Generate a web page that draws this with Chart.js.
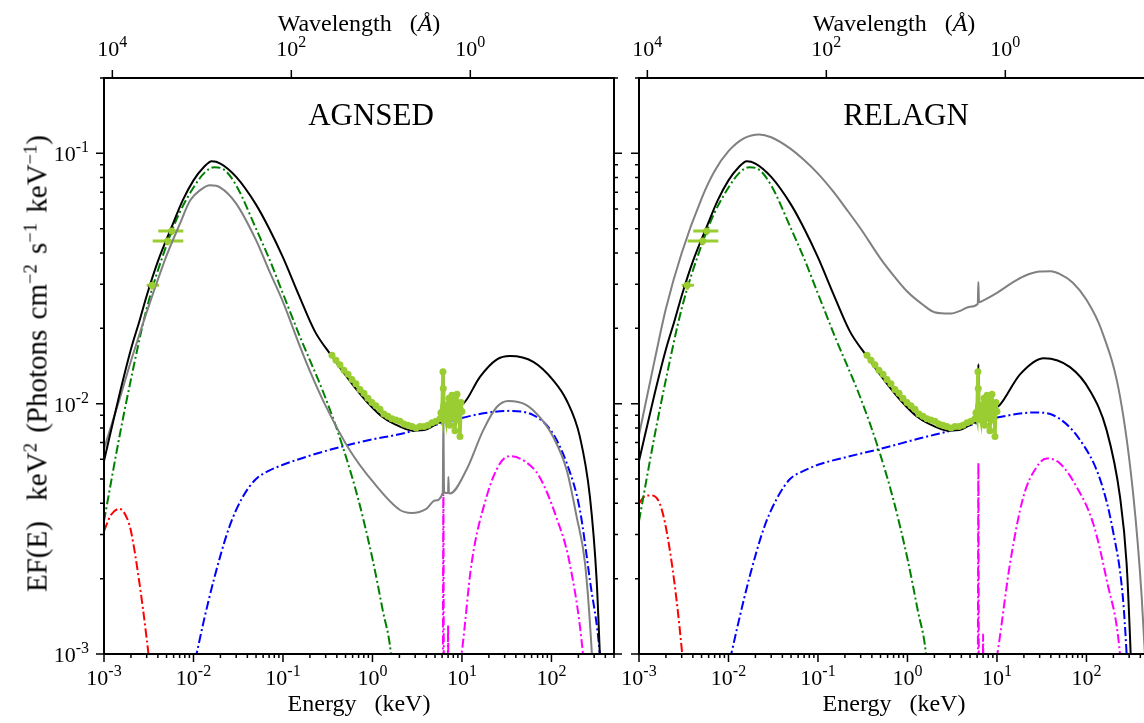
<!DOCTYPE html>
<html>
<head>
<meta charset="utf-8">
<script src="https://cdn.jsdelivr.net/npm/chart.js@4.4.1/dist/chart.umd.min.js"></script>
<style>
  body { margin: 0; background: #fff; overflow: hidden; }
  #page { position: relative; width: 1144px; height: 723px; overflow: hidden;
          font-family: 'Liberation Serif', 'Times New Roman', serif; color: #000; }
  canvas { position: absolute; top: 0; }
  .t { position: absolute; line-height: 1; text-align: center; white-space: pre; }
  sup { font-size: 64%; line-height: 0; vertical-align: 0.55em; }
</style>
</head>
<body>
<div id="page">
  <canvas id="left" width="627" height="723" style="left:0"></canvas>
  <canvas id="right" width="562" height="723" style="left:600px"></canvas>

  <div class="t" style="left:221px;top:99px;width:300px;font-size:31px">AGNSED</div>
  <div class="t" style="left:756px;top:99px;width:300px;font-size:31px">RELAGN</div>

  <div class="t" style="left:209px;top:11px;width:300px;font-size:24px">Wavelength   (<i>Å</i>)</div>
  <div class="t" style="left:744px;top:11px;width:300px;font-size:24px">Wavelength   (<i>Å</i>)</div>

  <div class="t" style="left:209px;top:691px;width:300px;font-size:24px">Energy   (keV)</div>
  <div class="t" style="left:744px;top:691px;width:300px;font-size:24px">Energy   (keV)</div>

  <div class="t" style="left:-263px;top:349px;width:600px;font-size:29px;word-spacing:3px;transform:rotate(-90deg)">EF(E)  keV<sup>2</sup> (Photons cm<sup>−2</sup> s<sup>−1</sup> keV<sup>−1</sup>)</div>
</div>

<script>
// keV * Angstrom
var HC = 12.398;

// axis tick exponents
var energyTickExp = [-3, -2, -1, 0, 1, 2];
var waveTickExp = [4, 2, 0];
var fluxTickExp = [-3, -2, -1];

// observed data (same in both panels)
var uvE   = [0.00346, 0.00515, 0.00571];
var uvF   = [0.0297, 0.0447, 0.049];
var uvElo = [0.0030, 0.0035, 0.00404];
var uvEhi = [0.00412, 0.00769, 0.00769];

var xrayE = [0.353, 0.391, 0.433, 0.480, 0.533, 0.590, 0.654, 0.725, 0.804, 0.891,
             0.987, 1.094, 1.213, 1.344, 1.490, 1.652, 1.830, 2.029, 2.249, 2.493,
             2.763, 3.062, 3.394, 3.762, 4.170, 4.622, 5.123, 5.678, 5.82, 5.97,
             6.13, 6.18, 6.25, 6.45, 6.63, 6.80, 6.98, 7.16, 7.34, 7.54,
             7.73, 7.93, 8.14, 8.35, 8.57, 8.79, 9.02, 9.26, 9.50, 9.75, 10.0];
var xrayF = [0.0156, 0.0149, 0.0143, 0.0136, 0.0131, 0.0125, 0.0120, 0.0114, 0.0110, 0.0105,
             0.0101, 0.0098, 0.0095, 0.0091, 0.0089, 0.0087, 0.0086, 0.0085, 0.0083, 0.0082,
             0.0081, 0.0080, 0.0081, 0.0081, 0.0082, 0.0084, 0.0085, 0.0087, 0.0092, 0.0088,
             0.0134, 0.0115, 0.0098, 0.0091, 0.0086, 0.0099, 0.0090, 0.0105, 0.0082, 0.0096,
             0.0108, 0.0088, 0.0103, 0.0078, 0.0094, 0.0109, 0.0086, 0.0099, 0.0074, 0.0101, 0.0093];

// AGNSED panel
var agnTotalE = [0.001, 0.0015, 0.002, 0.0025, 0.003, 0.004, 0.0056, 0.0076, 0.01, 0.013,
                 0.016, 0.02, 0.03, 0.05, 0.07, 0.1, 0.15, 0.228, 0.35, 0.56,
                 0.86, 1.32, 2.03, 2.86, 4.03, 5.68, 6.1, 6.2, 6.3, 7.0,
                 8.0, 9.5, 10.35, 15.9, 24.4, 34.4, 62.7, 104.8, 148, 208,
                 269, 320, 347, 380];
var agnTotalF = [0.0059, 0.011, 0.0165, 0.0215, 0.027, 0.037, 0.050, 0.065, 0.078, 0.088,
                 0.093, 0.091, 0.0805, 0.0624, 0.0501, 0.0384, 0.0272, 0.0194, 0.0155, 0.0123,
                 0.0102, 0.0088, 0.0081, 0.0078, 0.0079, 0.0084, 0.0088, 0.0136, 0.0089, 0.0091,
                 0.0094, 0.0099, 0.0100, 0.0128, 0.0150, 0.0155, 0.0147, 0.0124, 0.0103, 0.00737,
                 0.00425, 0.00197, 0.001, 0.0004];

var agnGrayE = [0.001, 0.0015, 0.002, 0.0025, 0.003, 0.005, 0.007, 0.0092, 0.012, 0.0153,
                0.02, 0.03, 0.05, 0.07, 0.1, 0.155, 0.2, 0.3, 0.56, 1.0,
                2.03, 2.73, 4.0, 5.0, 6.1, 6.2, 6.3, 6.6, 7.0, 7.06,
                7.15, 7.36, 11.2, 17.3, 24.5, 33, 52, 73.6, 104, 148,
                191, 237, 283, 320];
var agnGrayF = [0.0066, 0.0105, 0.0148, 0.019, 0.0232, 0.039, 0.052, 0.0649, 0.0715, 0.0745,
                0.073, 0.063, 0.045, 0.034, 0.0255, 0.0169, 0.0135, 0.0098, 0.0065, 0.0049,
                0.00376, 0.00366, 0.0038, 0.0041, 0.0044, 0.0088, 0.0045, 0.0044, 0.0044, 0.0051,
                0.0044, 0.00438, 0.00543, 0.00784, 0.0097, 0.01026, 0.0099, 0.00885, 0.00739, 0.00543,
                0.00354, 0.00231, 0.001, 0.0004];

var agnDiskE = [0.001, 0.0015, 0.002, 0.003, 0.005, 0.007, 0.01, 0.013, 0.017, 0.022,
                0.03, 0.05, 0.07, 0.1, 0.155, 0.3, 0.472, 0.7, 1.0, 1.3, 1.61, 1.8];
var agnDiskF = [0.0034, 0.0075, 0.0125, 0.024, 0.043, 0.058, 0.073, 0.083, 0.088, 0.086,
                0.0745, 0.050, 0.038, 0.0275, 0.0185, 0.0105, 0.00663, 0.0041, 0.0024, 0.0015, 0.001, 0.0006];

var agnHotE = [0.0105, 0.013, 0.017, 0.025, 0.035, 0.05, 0.07, 0.1, 0.2, 0.5,
               1.0, 2.0, 5.8, 17.3, 34.4, 62.5, 98, 148, 208, 269, 347, 380];
var agnHotF = [0.00095, 0.00135, 0.0020, 0.0032, 0.0042, 0.0050, 0.0054, 0.0057, 0.0062, 0.0068,
               0.0072, 0.00755, 0.00833, 0.00915, 0.00936, 0.0090, 0.00784, 0.00579, 0.00376, 0.00197, 0.001, 0.0006];

var agnReflE = [6.1, 6.2, 6.3, 6.9, 7.0, 7.1, 9.9, 12.8, 18.8, 26.6,
                34.4, 52, 73.6, 113, 160, 225, 250];
var agnReflF = [0.0005, 0.0047, 0.0005, 0.0005, 0.0013, 0.0005, 0.001, 0.0023, 0.00424, 0.00577,
                0.00617, 0.00584, 0.0051, 0.00353, 0.0023, 0.001, 0.0006];

var agnWarmE = [0.001, 0.0012, 0.0015, 0.0018, 0.002, 0.0025, 0.003, 0.0033, 0.0036];
var agnWarmF = [0.0031, 0.0036, 0.0038, 0.0035, 0.0031, 0.0019, 0.00115, 0.00085, 0.0006];

// RELAGN panel
var relTotalE = [0.001, 0.0015, 0.002, 0.0025, 0.003, 0.004, 0.0056, 0.0076, 0.01, 0.013,
                 0.016, 0.02, 0.03, 0.05, 0.07, 0.1, 0.15, 0.228, 0.35, 0.56,
                 0.86, 1.32, 2.03, 2.86, 4.03, 5.68, 6.1, 6.2, 6.3, 7.0,
                 8.0, 9.5, 10.8, 18.1, 33.5, 65.5, 109, 168, 237, 281, 312, 340];
var relTotalF = [0.0059, 0.011, 0.0165, 0.0215, 0.027, 0.037, 0.050, 0.065, 0.078, 0.088,
                 0.093, 0.091, 0.0805, 0.0624, 0.0501, 0.0384, 0.0272, 0.0194, 0.0155, 0.0123,
                 0.0102, 0.0088, 0.0081, 0.0078, 0.0079, 0.0084, 0.0088, 0.0144, 0.0089, 0.0091,
                 0.0093, 0.0096, 0.0099, 0.0131, 0.0152, 0.0140, 0.0113, 0.00784, 0.00425, 0.0023, 0.001, 0.0004];

var relGrayE = [0.001, 0.0015, 0.002, 0.003, 0.005, 0.007, 0.01, 0.015, 0.022, 0.03,
                0.05, 0.07, 0.1, 0.15, 0.2, 0.3, 0.5, 0.7, 1.0, 1.5,
                2.0, 3.0, 4.0, 5.0, 6.1, 6.2, 6.3, 7.0, 10, 15,
                20, 30, 40, 50, 70, 100, 148, 237, 334, 414, 500];
var relGrayF = [0.0075, 0.015, 0.024, 0.040, 0.066, 0.085, 0.102, 0.115, 0.119, 0.116,
                0.104, 0.094, 0.083, 0.070, 0.061, 0.050, 0.038, 0.0325, 0.028, 0.0248,
                0.0232, 0.0229, 0.0236, 0.0244, 0.025, 0.0306, 0.0254, 0.0258, 0.0277, 0.0305,
                0.0323, 0.0337, 0.0338, 0.0330, 0.0305, 0.0260, 0.0196, 0.0107, 0.0043, 0.0017, 0.0005];

var relHotE = [0.0104, 0.013, 0.017, 0.025, 0.035, 0.0487, 0.07, 0.1, 0.2, 0.5,
               1.38, 3.25, 10.8, 26.6, 42.6, 85, 143, 197, 255, 281, 300];
var relHotF = [0.00095, 0.00135, 0.0020, 0.0032, 0.0042, 0.0050, 0.0054, 0.0057, 0.0061, 0.0066,
               0.00727, 0.00784, 0.00884, 0.00922, 0.00899, 0.00715, 0.00495, 0.00313, 0.00169, 0.001, 0.0006];

var relReflE = [6.1, 6.2, 6.3, 6.9, 7.0, 7.1, 10.1, 14, 19.7, 27.7,
                35.9, 50.6, 77.6, 119, 168, 237, 260];
var relReflF = [0.0005, 0.0058, 0.0005, 0.0005, 0.0012, 0.0005, 0.001, 0.0023, 0.00424, 0.00558,
                0.00604, 0.00577, 0.00465, 0.00332, 0.00198, 0.001, 0.0006];

var relWarmE = [0.001, 0.0012, 0.0014, 0.0017, 0.002, 0.0025, 0.003, 0.0033];
var relWarmF = [0.0040, 0.0043, 0.0043, 0.0040, 0.0032, 0.0019, 0.00105, 0.0007];

var LIME = '#9acd32';
var DASHDOT = [9, 3, 2, 3];

function pts(E, F) {
  return E.map(function(e, i) { return { x: e, y: F[i] }; });
}

function curve(E, F, color, dashed) {
  return {
    data: pts(E, F),
    borderColor: color,
    borderWidth: 2,
    borderDash: dashed ? DASHDOT : [],
    pointRadius: 0,
    fill: false,
    cubicInterpolationMode: 'monotone',
    xAxisID: 'x',
    yAxisID: 'y'
  };
}

function dots(E, F, r, band) {
  return {
    data: pts(E, F),
    showLine: band,
    borderColor: LIME,
    borderWidth: 3.5,
    tension: 0,
    pointRadius: r,
    pointBackgroundColor: LIME,
    pointBorderWidth: 0,
    xAxisID: 'x',
    yAxisID: 'y'
  };
}

function powLabel(ctx, exp, x, y, align) {
  var base = '10', sup = String(exp);
  ctx.font = "22px 'Liberation Serif'";
  var wb = ctx.measureText(base).width;
  ctx.font = "16px 'Liberation Serif'";
  var ws = ctx.measureText(sup).width;
  var x0 = align === 'right' ? x - wb - ws : x - (wb + ws) / 2;
  ctx.font = "22px 'Liberation Serif'";
  ctx.fillText(base, x0, y);
  ctx.font = "16px 'Liberation Serif'";
  ctx.fillText(sup, x0 + wb, y - 9);
}

// frame, ticks and tick labels, placed with the chart's own scales
var framePlugin = {
  id: 'frame',
  beforeDatasetsDraw: function(chart) {
    // error bars of the UV points
    var ctx = chart.ctx, sx = chart.scales.x, sy = chart.scales.y;
    ctx.save();
    ctx.strokeStyle = LIME;
    ctx.lineWidth = 3;
    for (var i = 0; i < uvE.length; i++) {
      var py = sy.getPixelForValue(uvF[i]);
      ctx.beginPath();
      ctx.moveTo(sx.getPixelForValue(uvElo[i]), py);
      ctx.lineTo(sx.getPixelForValue(uvEhi[i]), py);
      ctx.moveTo(sx.getPixelForValue(uvE[i]), sy.getPixelForValue(uvF[i] * 0.96));
      ctx.lineTo(sx.getPixelForValue(uvE[i]), sy.getPixelForValue(uvF[i] * 1.04));
      ctx.stroke();
    }
    ctx.restore();
  },
  afterDraw: function(chart, args, opts) {
    var ctx = chart.ctx, a = chart.chartArea;
    var sx = chart.scales.x, sw = chart.scales.xw, sy = chart.scales.y;
    ctx.save();
    ctx.strokeStyle = '#000';
    ctx.lineWidth = 2;
    ctx.strokeRect(a.left, a.top, a.right - a.left, a.bottom - a.top);
    ctx.lineWidth = 1.5;
    ctx.beginPath();
    var d, m, v, p, len;
    for (d = -3; d <= 2; d++) {
      for (m = 1; m <= 9; m++) {
        v = m * Math.pow(10, d);
        if (v < sx.min || v > sx.max) continue;
        p = sx.getPixelForValue(v);
        len = m === 1 ? 8 : 4;
        ctx.moveTo(p, a.bottom);
        ctx.lineTo(p, a.bottom + len);
      }
    }
    for (d = -3; d <= -1; d++) {
      for (m = 1; m <= 9; m++) {
        v = m * Math.pow(10, d);
        if (v < sy.min || v > sy.max) continue;
        p = sy.getPixelForValue(v);
        len = m === 1 ? 8 : 4;
        ctx.moveTo(a.left, p);
        ctx.lineTo(a.left - len, p);
        ctx.moveTo(a.right, p);
        ctx.lineTo(a.right + len, p);
      }
    }
    waveTickExp.forEach(function(e) {
      var q = sw.getPixelForValue(Math.pow(10, e));
      ctx.moveTo(q, a.top);
      ctx.lineTo(q, a.top - 8);
    });
    ctx.stroke();

    ctx.fillStyle = '#000';
    ctx.textBaseline = 'alphabetic';
    ctx.textAlign = 'left';
    energyTickExp.forEach(function(e) {
      powLabel(ctx, e, sx.getPixelForValue(Math.pow(10, e)), a.bottom + 31, 'center');
    });
    waveTickExp.forEach(function(e) {
      powLabel(ctx, e, sw.getPixelForValue(Math.pow(10, e)), a.top - 22, 'center');
    });
    if (opts.yLabels) {
      fluxTickExp.forEach(function(e) {
        powLabel(ctx, e, a.left - 15, sy.getPixelForValue(Math.pow(10, e)) + 8, 'right');
      });
    }
    ctx.restore();
  }
};

function hiddenLog(position, min, max, reverse) {
  var horiz = position === 'top' || position === 'bottom';
  return {
    type: 'logarithmic',
    position: position,
    min: min,
    max: max,
    reverse: !!reverse,
    ticks: { display: false },
    grid: { display: false },
    border: { display: false },
    afterFit: function(s) { if (horiz) s.height = 0; else s.width = 0; }
  };
}

function makePanel(id, padLeft, yLabels, sets) {
  return new Chart(document.getElementById(id), {
    type: 'line',
    data: { datasets: sets },
    options: {
      responsive: false,
      animation: false,
      events: [],
      layout: { autoPadding: false, padding: { left: padLeft, right: 13, top: 78, bottom: 69 } },
      plugins: { legend: { display: false }, tooltip: { enabled: false }, frame: { yLabels: yLabels } },
      scales: {
        x: hiddenLog('bottom', 1e-3, 500),
        xw: hiddenLog('top', HC / 500, HC / 1e-3, true),
        y: hiddenLog('left', 1e-3, 0.2),
        y2: hiddenLog('right', 1e-3, 0.2)
      }
    },
    plugins: [framePlugin]
  });
}

// first dataset is drawn on top
makePanel('left', 104, true, [
  dots(xrayE, xrayF, 3.5, true),
  dots(uvE, uvF, 3.5, false),
  curve(agnTotalE, agnTotalF, '#000000', false),
  curve(agnGrayE, agnGrayF, '#808080', false),
  curve(agnDiskE, agnDiskF, '#008000', true),
  curve(agnHotE, agnHotF, '#0000ff', true),
  curve(agnReflE, agnReflF, '#ff00ff', true),
  curve(agnWarmE, agnWarmF, '#ff0000', true)
]);

// the disc component reads the same in both panels
makePanel('right', 39, false, [
  dots(xrayE, xrayF, 3.5, true),
  dots(uvE, uvF, 3.5, false),
  curve(relTotalE, relTotalF, '#000000', false),
  curve(relGrayE, relGrayF, '#808080', false),
  curve(agnDiskE, agnDiskF, '#008000', true),
  curve(relHotE, relHotF, '#0000ff', true),
  curve(relReflE, relReflF, '#ff00ff', true),
  curve(relWarmE, relWarmF, '#ff0000', true)
]);
</script>
</body>
</html>
